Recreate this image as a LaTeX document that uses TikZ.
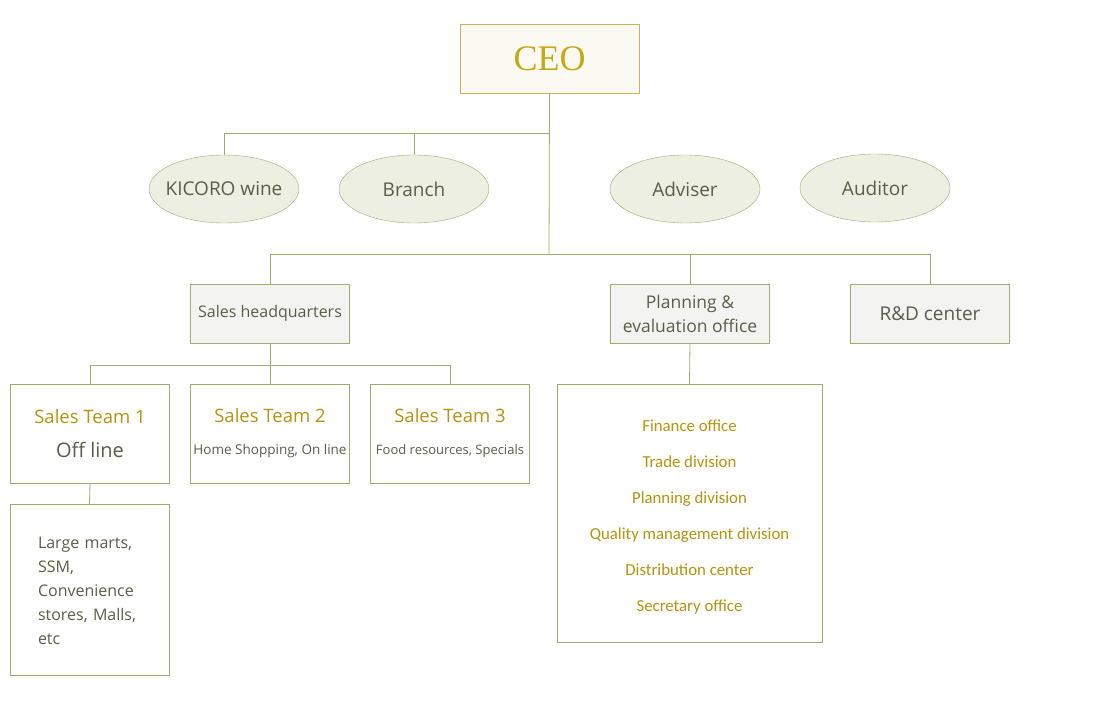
\documentclass[tikz,border=0pt]{standalone}
\usepackage{fontspec}
\setmainfont{Open Sans}
\newfontfamily\ceofont{Liberation Serif}
\newfontfamily\listfont{Carlito}
\usetikzlibrary{shapes.geometric}
\definecolor{linecol}{HTML}{A4AA6C}
\definecolor{ceoline}{HTML}{C9B45A}
\definecolor{ceofill}{HTML}{FAFAF3}
\definecolor{ovalfill}{HTML}{EDEFE3}
\definecolor{boxfill}{HTML}{F3F3F2}
\definecolor{goldtxt}{HTML}{B8920E}
\definecolor{ceotxt}{HTML}{C8A814}
\definecolor{darktxt}{HTML}{5A5E48}
\tikzset{
  oval/.style={ellipse, draw=linecol, fill=ovalfill, minimum width=150pt, minimum height=68pt, inner sep=0pt, text=darktxt, font=\fontsize{19}{22}\selectfont},
  office/.style={draw=linecol, fill=boxfill, minimum width=159pt, minimum height=59pt, inner sep=0pt, text=darktxt, align=center, font=\fontsize{16}{24}\selectfont},
  team/.style={draw=linecol, fill=white, minimum width=159pt, minimum height=99pt, inner sep=0pt, align=center},
  link/.style={draw=linecol, line width=0.8pt},
}
\begin{document}
\begin{tikzpicture}[x=1pt, y=-1pt]
  \useasboundingbox (0,0) rectangle (1100,703);

  % top
  \node[draw=ceoline, fill=ceofill, minimum width=179pt, minimum height=69pt, inner sep=0pt, text=ceotxt, font=\ceofont\fontsize{36}{40}\selectfont] (ceo) at (549.5,58.5) {\raisebox{-3pt}{CEO}};
  \node[oval] (kicoro) at (224,189) {\makebox[0pt]{KICORO wine}};
  \node[oval] (branch) at (414,189) {Branch};
  \node[oval] (adviser) at (685,189) {Adviser};
  \node[oval] (auditor) at (875,188) {Auditor};

  \coordinate (j1) at (549,133);
  \coordinate (j2) at (549,254);
  \draw[link] (ceo.south) -- (j2);
  \draw[link] (kicoro.north) |- (j1);
  \draw[link] (branch.north) |- (j1);

  % offices
  \node[office] (hq) at (270,313.5) {Sales headquarters};
  \node[office, font=\fontsize{17.5}{24}\selectfont] (plan) at (690,313.5) {Planning \&\\evaluation office};
  \node[office, font=\fontsize{19}{22}\selectfont] (rnd) at (930,313.5) {R\&D center};
  \draw[link] (hq.north) |- (j2);
  \draw[link] (plan.north) |- (j2);
  \draw[link] (rnd.north) |- (j2);

  % sales teams
  \coordinate (j3) at (270,365);
  \node[team] (team1) at (90,433.5) {\color{goldtxt}\fontsize{18.5}{20}\selectfont Sales Team 1\\[17pt]\color{darktxt}\fontsize{20}{20}\selectfont Off line};
  \node[team] (team2) at (270,433.5) {\color{goldtxt}\fontsize{18.5}{20}\selectfont Sales Team 2\\[20pt]\color{darktxt}\fontsize{13.5}{16}\selectfont Home Shopping, On line};
  \node[team] (team3) at (450,433.5) {\color{goldtxt}\fontsize{18.5}{20}\selectfont Sales Team 3\\[20pt]\color{darktxt}\fontsize{13}{16}\selectfont Food resources, Specials};
  \draw[link] (hq.south) -- (j3);
  \draw[link] (team1.north) |- (j3);
  \draw[link] (team3.north) |- (j3);
  \draw[link] (j3) -- (team2.north);

  \node[team, minimum height=171pt, text width=103pt, align=left, text=darktxt, font=\fontsize{16}{24}\selectfont] (marts) at (89.5,589.5) {\\[-10pt]Large marts,\\SSM,\\Convenience\\stores, Malls,\\etc};
  \draw[link] (team1.south) -- (marts.north);

  % planning list
  \node[team, minimum width=265pt, minimum height=258pt, text=goldtxt, font=\listfont\fontsize{16.8}{36}\selectfont] (divs) at (689.5,513) {\\[-16pt]Finance office\\Trade division\\Planning division\\Quality management division\\Distribution center\\Secretary office};
  \draw[link] (plan.south) -- (divs.north);
\end{tikzpicture}
\end{document}
